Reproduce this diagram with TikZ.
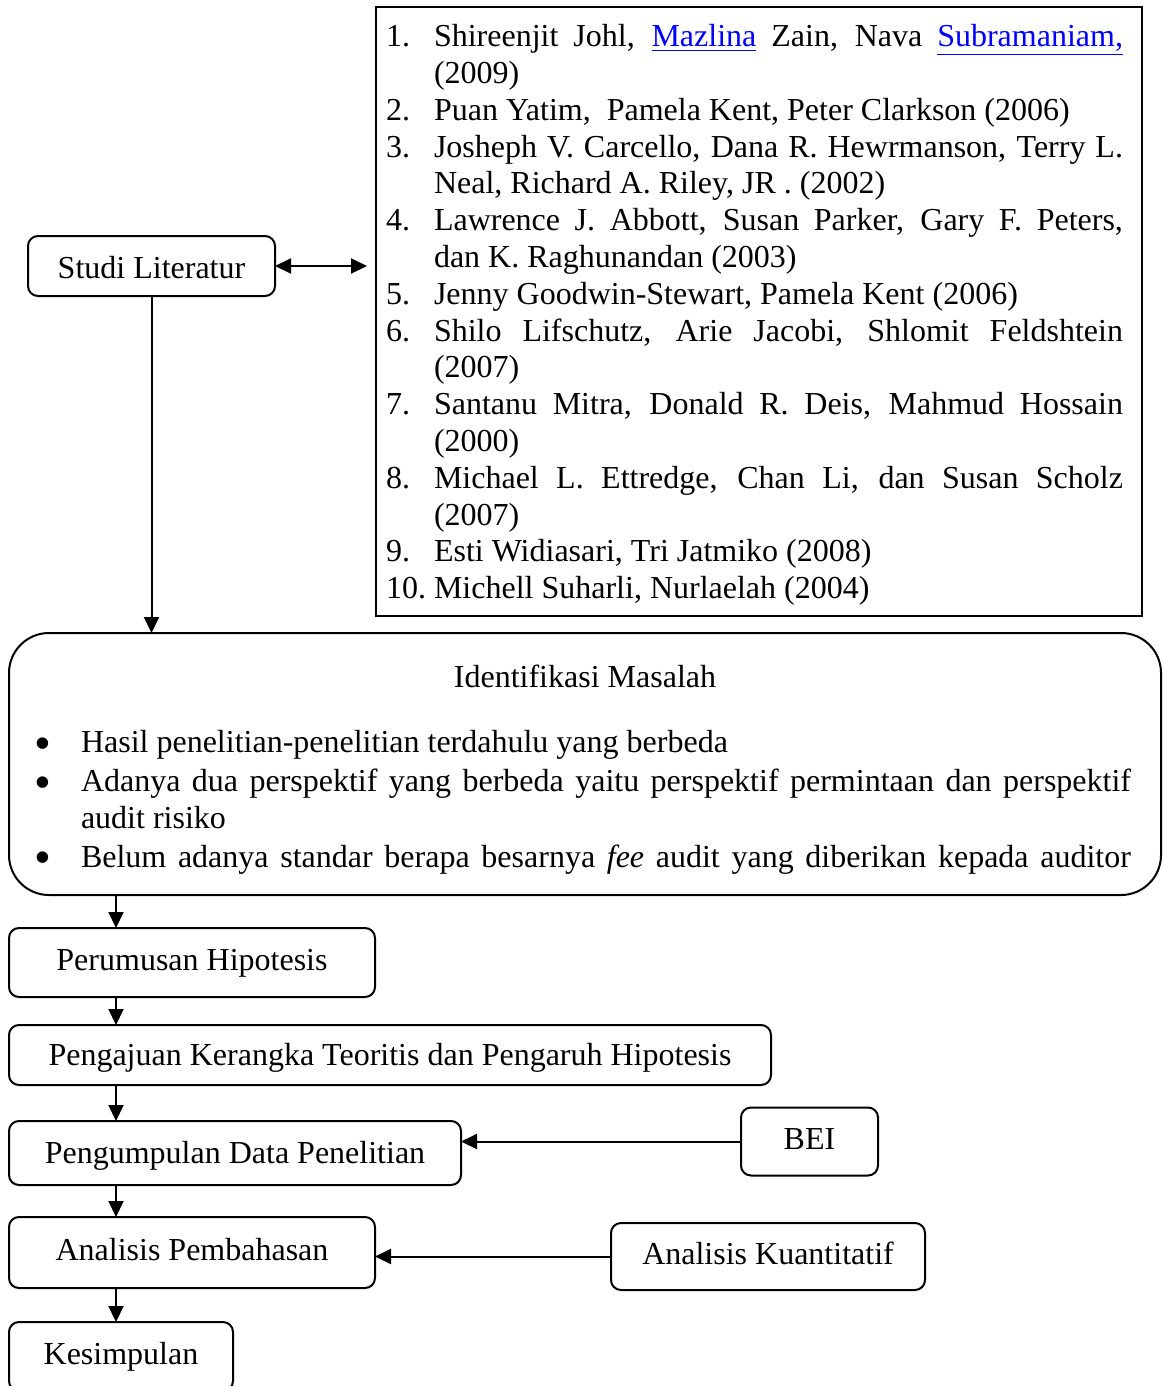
\documentclass[tikz,border=0pt]{standalone}
\usepackage{fontspec}
\setmainfont{Liberation Serif}
\usetikzlibrary{arrows.meta,positioning,fit}

\tolerance=9999
\hyphenpenalty=10000
\exhyphenpenalty=10000

\newcounter{refno}
\newenvironment{refitems}{\begin{list}{\arabic{refno}.}{\usecounter{refno}%
	\setlength{\leftmargin}{24pt}\setlength{\labelwidth}{24pt}\setlength{\labelsep}{0pt}%
	\setlength{\itemsep}{0pt}\setlength{\topsep}{0pt}\setlength{\partopsep}{0pt}%
	\setlength{\parsep}{0pt}\def\makelabel##1{##1\hfil}}}{\end{list}}
\newcommand{\bigdot}{\raisebox{-3.3pt}[0pt][0pt]{\scalebox{1.5}{\textbullet}}}
\newenvironment{probitems}{\begin{list}{\bigdot}{%
	\setlength{\leftmargin}{23.5pt}\setlength{\labelwidth}{23.5pt}\setlength{\labelsep}{0pt}%
	\setlength{\itemsep}{1pt}\setlength{\topsep}{0pt}\setlength{\partopsep}{0pt}%
	\setlength{\parsep}{0pt}\def\makelabel##1{##1\hfil}}}{\end{list}}
\newcommand{\reflink}[1]{\textcolor{blue}{\underline{#1}}}

\begin{document}
\begin{tikzpicture}[x=0.5pt,y=-0.5pt,line width=1pt,
		font=\fontsize{16}{18.4}\selectfont,>={Triangle[length=8pt,width=7.5pt]}]
	  \tikzstyle{process}=[rectangle,draw,rounded corners=5pt,inner sep=0pt,outer sep=0pt,
				  text height=11pt,text depth=3.5pt]
	  \tikzstyle{bigbox}=[rectangle,draw,rounded corners=20pt,outer sep=0pt,
				  minimum width=576pt,minimum height=131pt]
	  \tikzstyle{frame}=[rectangle,draw,inner sep=0pt,outer sep=0pt]
	  \tikzstyle{flow}=[->]

	\useasboundingbox (0,0) rectangle (1163,1386);

	\node (studi)[process,minimum width=123.5pt,minimum height=30pt,text height=15.5pt] at (151.5,266) {Studi Literatur};

	\node (refs)[anchor=north west,text width=368.5pt,inner sep=0pt,align=justify] at (385,9) {%
		\begin{refitems}
		\item Shireenjit Johl, \reflink{Mazlina} Zain, Nava \reflink{Subramaniam,}\linebreak (2009)
		\item Puan Yatim, \ Pamela Kent, Peter Clarkson (2006)
		\item Josheph V. Carcello, Dana R. Hewrmanson, Terry L.\linebreak Neal, Richard A. Riley, JR . (2002)
		\item Lawrence J. Abbott, Susan Parker, Gary F. Peters,\linebreak dan K. Raghunandan (2003)
		\item Jenny Goodwin-Stewart, Pamela Kent (2006)
		\item Shilo Lifschutz, Arie Jacobi, Shlomit Feldshtein\linebreak (2007)
		\item Santanu Mitra, Donald R. Deis, Mahmud Hossain\linebreak (2000)
		\item Michael L. Ettredge, Chan Li, dan Susan Scholz\linebreak (2007)
		\item Esti Widiasari, Tri Jatmiko (2008)
		\item Michell Suharli, Nurlaelah (2004)
		\end{refitems}};
	\node (reflist)[frame,fit={(376,7) (1142,616)}] {};

	\node (ident)[bigbox] at (585,764) {};
	\node (identtitle)[anchor=base] at (585,687) {Identifikasi Masalah};
	\node (identlist)[anchor=north west,text width=548.5pt,inner sep=0pt,align=justify] at (33,715) {%
		\begin{probitems}
		\item Hasil penelitian-penelitian terdahulu yang berbeda
		\item Adanya dua perspektif yang berbeda yaitu perspektif permintaan dan perspektif\linebreak audit risiko
		\item \parfillskip=0pt Belum adanya standar berapa besarnya \emph{fee} audit yang diberikan kepada auditor
		\end{probitems}};

	\node (perum)[process,minimum width=183pt,minimum height=34.5pt,
		below=16.5pt of ident.south west,anchor=north west] {Perumusan Hipotesis};
	\node (pengajuan)[process,minimum width=381pt,minimum height=30pt,text height=14pt,
		below=14pt of perum.south west,anchor=north west] {Pengajuan Kerangka Teoritis dan Pengaruh Hipotesis};
	\node (pengumpulan)[process,minimum width=226pt,minimum height=32pt,text height=13.5pt,
		below=18pt of pengajuan.south west,anchor=north west] {Pengumpulan Data Penelitian};
	\node (analisis)[process,minimum width=183pt,minimum height=35.5pt,
		below=16pt of pengumpulan.south west,anchor=north west] {Analisis Pembahasan};
	\node (kesimpulan)[process,minimum width=112pt,minimum height=34.5pt,
		below=17pt of analisis.south west,anchor=north west] {Kesimpulan};

	\node (bei)[process,minimum width=68.5pt,minimum height=34pt] at (809.5,1141.5) {BEI};
	\node (kuant)[process,minimum width=157pt,minimum height=33.5pt] at (768,1256.5) {Analisis Kuantitatif};

	\coordinate (spine) at (116,0);

	\draw[<->] (studi.east) -- ([xshift=-4.5pt]studi.east -| reflist.west);
	\draw[flow] (studi) -- (studi |- ident.north);
	\draw[flow] (ident.south -| spine) -- (perum.north -| spine);
	\draw[flow] (perum.south -| spine) -- (pengajuan.north -| spine);
	\draw[flow] (pengajuan.south -| spine) -- (pengumpulan.north -| spine);
	\draw[flow] (pengumpulan.south -| spine) -- (analisis.north -| spine);
	\draw[flow] (analisis.south -| spine) -- (kesimpulan.north -| spine);
	\draw[flow] (bei) -- (bei -| pengumpulan.east);
	\draw[flow] (kuant) -- (kuant -| analisis.east);

		%\draw (refs) -- (ident);
	\end{tikzpicture}
\end{document}
